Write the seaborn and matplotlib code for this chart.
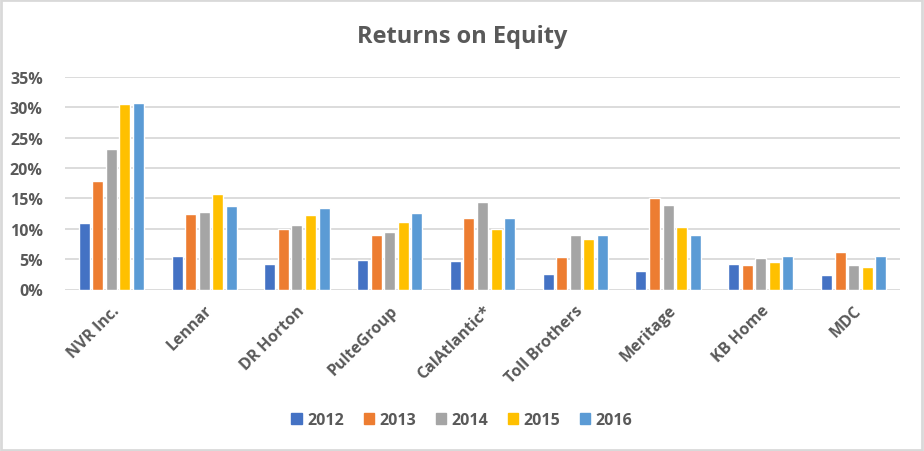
import pandas as pd
import matplotlib
matplotlib.use("Agg")
import matplotlib.pyplot as plt
import seaborn as sns
from matplotlib.patches import Rectangle
from matplotlib.ticker import PercentFormatter

# ── Data ─────────────────────────────────────────────────────────────────────
COMPANIES = ["NVR Inc.", "Lennar", "DR Horton", "PulteGroup", "CalAtlantic*",
             "Toll Brothers", "Meritage", "KB Home", "MDC"]
YEARS = ["2012", "2013", "2014", "2015", "2016"]

roe_2012 = [10.9, 5.5, 4.2, 4.8, 4.7, 2.5, 3.0, 4.2, 2.4]
roe_2013 = [17.8, 12.4, 9.9, 8.9, 11.7, 5.3, 15.0, 4.0, 6.1]
roe_2014 = [23.2, 12.7, 10.7, 9.4, 14.4, 8.9, 13.9, 5.2, 4.0]
roe_2015 = [30.5, 15.7, 12.2, 11.1, 9.9, 8.4, 10.3, 4.5, 3.7]
roe_2016 = [30.7, 13.7, 13.4, 12.6, 11.7, 8.9, 8.9, 5.5, 5.5]

COLORS = ["#4472C4", "#ED7D31", "#A5A5A5", "#FFC000", "#5B9BD5"]
TEXT = "#595959"
GRID = "#D9D9D9"

# ── Long-form table ──────────────────────────────────────────────────────────
series = [roe_2012, roe_2013, roe_2014, roe_2015, roe_2016]
rows = []
for year, vals in zip(YEARS, series):
    for comp, v in zip(COMPANIES, vals):
        rows.append({"company": comp, "year": year, "roe": v / 100})
df = pd.DataFrame(rows)

# ── Plot ─────────────────────────────────────────────────────────────────────
sns.set_theme(style="white")
plt.rcParams["font.family"] = ["Open Sans", "DejaVu Sans"]

fig = plt.figure(figsize=(9.24, 4.52), dpi=100)
ax = fig.add_axes([65 / 924, 1 - 290.5 / 452, 835 / 924, 212.5 / 452])

sns.barplot(data=df, x="company", y="roe", hue="year", order=COMPANIES,
            hue_order=YEARS, palette=COLORS, width=0.73, gap=0.19,
            saturation=1, errorbar=None, ax=ax, zorder=3)

ax.set_ylim(0, 0.35)
ax.set_yticks([i * 0.05 for i in range(8)])
ax.yaxis.set_major_formatter(PercentFormatter(1.0, decimals=0))
ax.grid(axis="y", color=GRID, linewidth=1.3, zorder=0)
ax.set_axisbelow(True)
for s in ax.spines.values():
    s.set_visible(False)
ax.set_xlabel("")
ax.set_ylabel("")
ax.tick_params(axis="both", length=0, colors=TEXT, labelsize=11.5)
ax.tick_params(axis="y", pad=16)
for lab in ax.get_yticklabels():
    lab.set_fontweight("bold")
plt.setp(ax.get_xticklabels(), rotation=45, ha="right",
         rotation_mode="anchor", fontweight="bold")
ax.tick_params(axis="x", pad=9)

ax.legend_.remove()
handles = [Rectangle((0, 0), 1, 1, color=c) for c in COLORS]
leg = fig.legend(handles, YEARS, loc="center", bbox_to_anchor=(0.5, 1 - 421 / 452),
                 ncol=5, frameon=False, handlelength=0.66, handleheight=0.66,
                 handletextpad=0.35, columnspacing=1.2,
                 prop={"weight": "bold", "size": 11.5})
for t in leg.get_texts():
    t.set_color(TEXT)

fig.text(0.5, 1 - 37 / 452, "Returns on Equity", ha="center", va="center",
         fontsize=17, fontweight="bold", color=TEXT)

fig.patches.append(Rectangle((0.001, 0.002), 0.997, 0.996, transform=fig.transFigure,
                             fill=False, edgecolor=GRID, linewidth=2))

fig.savefig("out.png", dpi=100)
